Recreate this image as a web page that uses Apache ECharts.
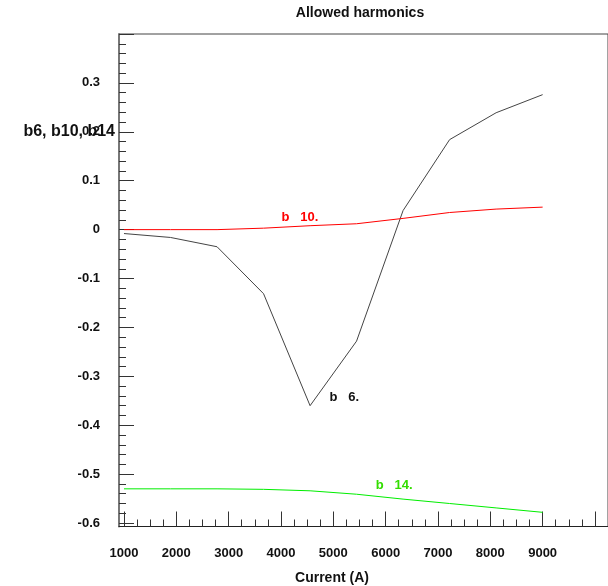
<!DOCTYPE html>
<html><head><meta charset="utf-8">
<script src="https://cdn.jsdelivr.net/npm/echarts@6/dist/echarts.min.js"></script>
<style>html,body{margin:0;padding:0;background:#fff}#c{width:608px;height:586px}</style>
</head><body><div id="c"></div>
<script>
// Data
const currents = [1000, 1889, 2778, 3667, 4556, 5444, 6333, 7222, 8111, 9000];
const b6  = [-0.008, -0.016, -0.035, -0.131, -0.360, -0.228, 0.039, 0.184, 0.239, 0.276];
const b10 = [0.000, 0.000, 0.000, 0.003, 0.008, 0.012, 0.023, 0.035, 0.042, 0.046];
const b14 = [-0.530, -0.530, -0.530, -0.531, -0.534, -0.541, -0.551, -0.560, -0.569, -0.578];

const xTickLabels = [1000, 2000, 3000, 4000, 5000, 6000, 7000, 8000, 9000];
const xMajorTicks = [1000, 2000, 3000, 4000, 5000, 6000, 7000, 8000, 9000, 10000];
const yTickLabels = [-0.6, -0.5, -0.4, -0.3, -0.2, -0.1, 0, 0.1, 0.2, 0.3];
const yMajorTicks = [-0.6, -0.5, -0.4, -0.3, -0.2, -0.1, 0, 0.1, 0.2, 0.3, 0.4];

const seriesNames = ['b   6.', 'b   10.', 'b   14.'];

// minor tick positions
const xMinorTicks = [];
for (let v = 1250; v < 10000; v += 250) { if (v % 1000 !== 0) xMinorTicks.push(v); }
const yMinorTicks = [];
for (let i = -30; i <= 20; i++) { if (i % 5 !== 0) yMinorTicks.push(Math.round(i * 2) / 100); }

const X_MIN = 904.5, X_MAX = 10249;
const Y_MIN = -0.607, Y_MAX = 0.4;
const FONT = "'Liberation Sans', Arial, sans-serif";

const toPairs = (ys) => currents.map((x, i) => [x, ys[i]]);

const chart = echarts.init(document.getElementById('c'), null, {renderer: 'canvas'});
chart.setOption({
  animation: false,
  backgroundColor: '#ffffff',
  textStyle: {fontFamily: FONT},
  grid: {left: 119, top: 34, right: -20, bottom: 59.5, show: true, borderColor: '#444', borderWidth: 1},
  graphic: [
    {type: 'text', x: 360, y: 13, style: {text: 'Allowed harmonics', font: 'bold 14px ' + FONT, fill: '#111', textAlign: 'center', textVerticalAlign: 'middle'}},
    {type: 'text', x: 332, y: 578, style: {text: 'Current (A)', font: 'bold 14px ' + FONT, fill: '#111', textAlign: 'center', textVerticalAlign: 'middle'}},
    {type: 'text', x: 115, y: 132, style: {text: 'b6, b10, b14', font: 'bold 16px ' + FONT, fill: '#111', textAlign: 'right', textVerticalAlign: 'middle'}}
  ],
  xAxis: [
    {
      type: 'value', min: X_MIN, max: X_MAX, position: 'bottom',
      axisLine: {show: true, onZero: false, lineStyle: {color: '#222', width: 1}},
      axisTick: {show: true, inside: true, length: 15, customValues: xMajorTicks, lineStyle: {color: '#333', width: 1}},
      axisLabel: {show: true, customValues: xTickLabels, margin: 20, color: '#111', fontWeight: 'bold', fontSize: 13, fontFamily: FONT,
        formatter: (v) => String(Math.round(v))},
      splitLine: {show: false}
    },
    {
      type: 'value', min: X_MIN, max: X_MAX, position: 'bottom', gridIndex: 0,
      axisLine: {show: false, onZero: false},
      axisTick: {show: true, inside: true, length: 7, customValues: xMinorTicks, lineStyle: {color: '#333', width: 1}},
      axisLabel: {show: false},
      splitLine: {show: false}
    }
  ],
  yAxis: [
    {
      type: 'value', min: Y_MIN, max: Y_MAX, position: 'left',
      axisLine: {show: true, onZero: false, lineStyle: {color: '#777', width: 2}},
      axisTick: {show: true, inside: true, length: 15, customValues: yMajorTicks, lineStyle: {color: '#333', width: 1}},
      axisLabel: {show: true, customValues: yTickLabels, margin: 19, color: '#111', fontWeight: 'bold', fontSize: 13, fontFamily: FONT,
        formatter: (v) => (Math.abs(v) < 1e-9 ? '0' : v.toFixed(1))},
      splitLine: {show: false}
    },
    {
      type: 'value', min: Y_MIN, max: Y_MAX, position: 'left', gridIndex: 0,
      axisLine: {show: false, onZero: false},
      axisTick: {show: true, inside: true, length: 7, customValues: yMinorTicks, lineStyle: {color: '#333', width: 1}},
      axisLabel: {show: false},
      splitLine: {show: false}
    }
  ],
  series: [
    {
      name: seriesNames[0], type: 'line', data: toPairs(b6), symbol: 'none',
      lineStyle: {color: '#444', width: 1},
      markPoint: {symbol: 'circle', symbolSize: 0, silent: true,
        data: [{coord: [4925, -0.344]}],
        label: {show: true, position: 'right', distance: 0, formatter: seriesNames[0], color: '#111', fontWeight: 'bold', fontSize: 13, fontFamily: FONT}}
    },
    {
      name: seriesNames[1], type: 'line', data: toPairs(b10), symbol: 'none',
      lineStyle: {color: '#ff0000', width: 1},
      markPoint: {symbol: 'circle', symbolSize: 0, silent: true,
        data: [{coord: [4010, 0.024]}],
        label: {show: true, position: 'right', distance: 0, formatter: seriesNames[1], color: '#ff0000', fontWeight: 'bold', fontSize: 13, fontFamily: FONT}}
    },
    {
      name: seriesNames[2], type: 'line', data: toPairs(b14), symbol: 'none',
      lineStyle: {color: '#00ee00', width: 1},
      markPoint: {symbol: 'circle', symbolSize: 0, silent: true,
        data: [{coord: [5810, -0.524]}],
        label: {show: true, position: 'right', distance: 0, formatter: seriesNames[2], color: '#33dd00', fontWeight: 'bold', fontSize: 13, fontFamily: FONT}}
    }
  ]
});
</script>
</body></html>
